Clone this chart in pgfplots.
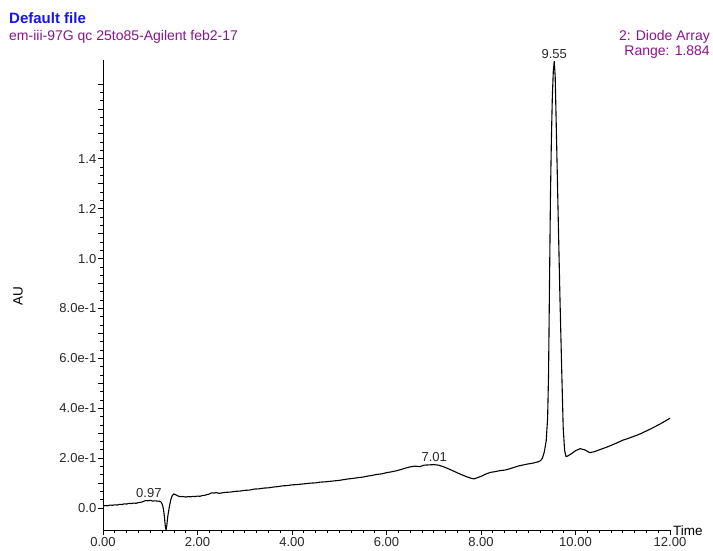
\documentclass[border=0pt]{standalone}
\usepackage{pgfplots}
\pgfplotsset{compat=1.18}
\usepackage{pgfplotstable}
\usepackage{fontspec}
\setmainfont{Liberation Sans}
\definecolor{ttlblue}{RGB}{20,20,245}
\definecolor{mlpurple}{RGB}{140,20,140}
\definecolor{tickgray}{RGB}{40,40,40}
\pgfplotstableread{
t v
0.00 0.008
0.05 0.010
0.10 0.009
0.15 0.012
0.20 0.011
0.25 0.013
0.30 0.012
0.35 0.015
0.40 0.014
0.45 0.017
0.50 0.016
0.55 0.019
0.60 0.018
0.65 0.020
0.70 0.019
0.75 0.022
0.80 0.023
0.85 0.026
0.90 0.030
0.95 0.029
1.00 0.031
1.05 0.028
1.10 0.029
1.15 0.028
1.20 0.027
1.23 0.024
1.26 0.012
1.28 -0.005
1.30 -0.035
1.32 -0.075
1.335 -0.088
1.35 -0.070
1.37 -0.035
1.40 0.000
1.43 0.030
1.46 0.048
1.50 0.057
1.54 0.053
1.58 0.049
1.62 0.046
1.70 0.046
1.75 0.044
1.80 0.046
1.85 0.045
1.90 0.047
1.95 0.046
2.00 0.048
2.05 0.047
2.10 0.050
2.15 0.051
2.20 0.054
2.25 0.056
2.30 0.061
2.35 0.060
2.40 0.062
2.45 0.059
2.50 0.060
2.55 0.062
2.60 0.063
2.70 0.064
2.80 0.067
2.90 0.068
3.00 0.071
3.10 0.072
3.20 0.076
3.30 0.077
3.40 0.080
3.50 0.081
3.60 0.084
3.70 0.086
3.80 0.089
3.90 0.090
4.00 0.093
4.10 0.094
4.20 0.096
4.30 0.098
4.40 0.100
4.50 0.101
4.60 0.104
4.70 0.105
4.80 0.107
4.90 0.109
5.00 0.111
5.10 0.114
5.20 0.117
5.30 0.119
5.40 0.122
5.50 0.124
5.60 0.128
5.70 0.131
5.80 0.135
5.90 0.137
6.00 0.142
6.10 0.145
6.20 0.149
6.30 0.154
6.40 0.160
6.50 0.165
6.60 0.168
6.70 0.166
6.80 0.172
6.90 0.173
7.00 0.174
7.10 0.172
7.20 0.166
7.30 0.158
7.40 0.150
7.50 0.141
7.60 0.133
7.70 0.125
7.80 0.119
7.85 0.117
7.90 0.120
8.00 0.127
8.10 0.136
8.20 0.143
8.30 0.146
8.40 0.150
8.50 0.152
8.60 0.157
8.70 0.163
8.80 0.169
8.90 0.173
9.00 0.177
9.10 0.180
9.20 0.185
9.26 0.190
9.30 0.200
9.34 0.225
9.38 0.270
9.41 0.360
9.43 0.540
9.45 0.900
9.47 1.250
9.49 1.480
9.51 1.650
9.53 1.750
9.55 1.790
9.57 1.730
9.60 1.470
9.63 1.200
9.67 0.850
9.71 0.540
9.74 0.320
9.77 0.230
9.80 0.206
9.83 0.208
9.90 0.216
10.00 0.230
10.10 0.238
10.20 0.233
10.30 0.222
10.40 0.226
10.50 0.233
10.60 0.240
10.70 0.247
10.80 0.255
10.90 0.263
11.00 0.272
11.10 0.278
11.20 0.285
11.30 0.292
11.40 0.300
11.50 0.309
11.60 0.318
11.70 0.328
11.80 0.338
11.90 0.349
12.00 0.360
}\chrom
\begin{document}
\begin{tikzpicture}[x=1pt,y=1pt]
\useasboundingbox (0,0) rectangle (713,550);
\fill[white] (0,0) rectangle (713,550);
\begin{axis}[
  at={(103pt,20pt)}, anchor=south west,
  scale only axis, width=567pt, height=470pt,
  xmin=0, xmax=12, ymin=-0.088, ymax=1.796,
  axis lines=left, axis line style={-, line width=0.9pt, black},
  tick align=outside,
  major tick length=5pt, minor tick length=3pt,
  tick style={black, line width=0.7pt},
  xtick={0,2,4,6,8,10,12},
  xticklabels={0.00,2.00,4.00,6.00,8.00,10.00,12.00},
  minor x tick num=7,
  ytick={0,0.1,0.2,0.3,0.4,0.5,0.6,0.7,0.8,0.9,1.0,1.1,1.2,1.3,1.4,1.5,1.6,1.7},
  yticklabels={0.0,,2.0e-1,,4.0e-1,,6.0e-1,,8.0e-1,,1.0,,1.2,,1.4,,,},
  minor y tick num=2,
  ticklabel style={font=\fontsize{13}{15}\selectfont, text=tickgray},
  xticklabel style={inner sep=1pt, yshift=-1pt},
  yticklabel style={inner sep=1.5pt},
  clip=false,
]
\addplot[black, line width=1.1pt, line join=round] table[x=t,y=v] {\chrom};
\node[anchor=south, font=\fontsize{13}{15}\selectfont, text=tickgray, inner sep=2pt] at (axis cs:0.97,0.031) {0.97};
\node[anchor=south, font=\fontsize{13}{15}\selectfont, text=tickgray, inner sep=2pt] at (axis cs:7.01,0.176) {7.01};
\node[anchor=south, font=\fontsize{13}{15}\selectfont, text=tickgray, inner sep=3pt] at (axis cs:9.55,1.790) {9.55};
\end{axis}
\node[anchor=west, inner sep=0pt, font=\fontsize{13.5}{15}\selectfont] at (673,19) {Time};
\node[rotate=90, inner sep=0pt, font=\fontsize{13.5}{15}\selectfont] at (18,254) {AU};
\node[anchor=west, inner sep=0pt, text=ttlblue, font=\fontsize{15}{17}\bfseries] at (9,532) {Default file};
\node[anchor=west, inner sep=0pt, text=mlpurple, font=\fontsize{14}{16}\selectfont] at (9,513) {em-iii-97G qc 25to85-Agilent feb2-17};
\node[anchor=east, inner sep=0pt, text=mlpurple, font=\fontsize{14}{16}\selectfont] at (710,513) {2: Diode Array};
\node[anchor=east, inner sep=0pt, text=mlpurple, font=\fontsize{14}{16}\selectfont] at (710,498) {Range: 1.884};
\end{tikzpicture}
\end{document}
